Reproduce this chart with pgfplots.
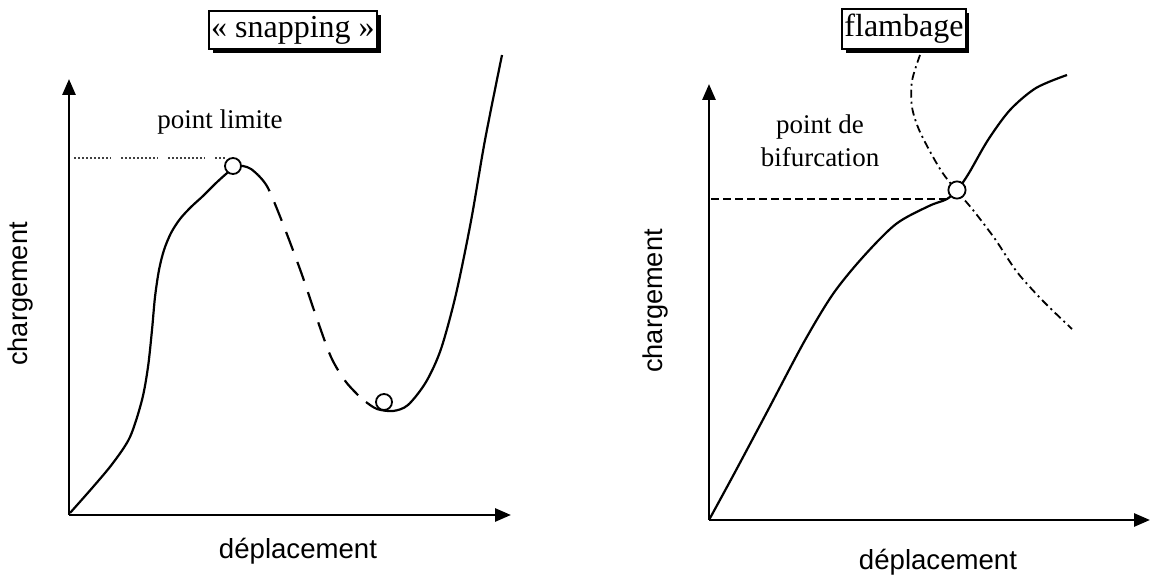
\documentclass[border=0pt]{standalone}
\usepackage{fontspec}
\setmainfont{Liberation Serif}
\newfontfamily\arialf{Liberation Sans}
\usepackage{pgfplots}
\pgfplotsset{compat=1.18}
\usetikzlibrary{arrows.meta,shadows}
\tikzset{titlebox/.style={draw, line width=1pt, fill=white, inner xsep=1pt, inner ysep=2.6pt,
      drop shadow={shadow xshift=1.9pt, shadow yshift=-1.9pt, fill=black, opacity=1},
      font=\fontsize{16}{18}\selectfont}}
\begin{document}
\begin{tikzpicture}
\begin{axis}[
  scale only axis, width=576pt, height=288pt,
  xmin=0, xmax=1152, ymin=0, ymax=576, y dir=reverse,
  hide axis, clip=false,
]
% ---------- left panel ----------
\addplot[black, line width=1.4pt, -{Triangle[length=8pt,width=6.5pt]}] coordinates {(69,515) (69,79)};
\addplot[black, line width=1.4pt, -{Triangle[length=8pt,width=6.5pt]}] coordinates {(69,515) (511,515)};
% dotted limit-load line
\addplot[black!75, line width=0.8pt, dash pattern=on 1pt off 1pt on 1pt off 1pt on 1pt off 1pt on 1pt off 1pt on 1pt off 1pt on 1pt off 1pt on 1pt off 1pt on 1pt off 1pt on 1pt off 1pt on 0.5pt off 5pt] coordinates {(74,158) (227,158)};
% solid rising branch
\addplot[black, line width=1.1pt, smooth] coordinates {
 (70,513) (93,487) (113,463) (130,437) (142,400) (148,367) (152,330) (155,297) (159,270)
 (164,250) (171,233) (180,219) (191,207) (203,196) (215,184) (226,174) (234,168) (243,166) (251,169) (258,175)};
% dashed unstable branch
\addplot[black, line width=1.1pt, smooth, dash pattern=on 10pt off 6pt] coordinates {
 (258,175) (268,188) (283,224) (301,272) (316,316) (331,357) (346,382) (364,401)};
% solid branch after snap
\addplot[black, line width=1.1pt, smooth] coordinates {
 (366,402) (377,409) (393,411) (408,405) (426,382) (441,349) (456,294) (471,221) (485,140) (502,55)};
\addplot[only marks, mark=*, mark size=4pt, mark options={fill=white, draw=black, line width=0.9pt}] coordinates {(233,166) (384,402)};
\node[titlebox] at (axis cs:293,30) {« snapping »};
\node[font=\fontsize{13.5}{16}\selectfont] at (axis cs:220,122) {point limite};
\node[rotate=90, font=\arialf\fontsize{13.6}{16}\selectfont] at (axis cs:20,294) {chargement};
\node[font=\arialf\fontsize{13.8}{16}\selectfont] at (axis cs:298,551) {déplacement};
% ---------- right panel ----------
\addplot[black, line width=1.4pt, -{Triangle[length=8pt,width=6.5pt]}] coordinates {(709,520) (709,84)};
\addplot[black, line width=1.4pt, -{Triangle[length=8pt,width=6.5pt]}] coordinates {(709,520) (1150,520)};
\addplot[black, line width=0.9pt, dash pattern=on 4pt off 2pt] coordinates {(711,199) (947,199)};
\addplot[black, line width=1.1pt, smooth] coordinates {
 (709,520) (734,474) (767,412) (804,342) (833,294) (863,257) (896,224) (929,206) (947,199) (958,189)
 (969,173) (988,140) (1010,110) (1036,88) (1067,75)};
\addplot[black, line width=0.9pt, smooth, dash pattern=on 4pt off 2pt on 1pt off 2pt] coordinates {
 (920,55) (912,81) (912,107) (920,132) (940,169) (956,190) (973,210) (995,239) (1017,272) (1043,301) (1072,329)};
\addplot[only marks, mark=*, mark size=4.3pt, mark options={fill=white, draw=black, line width=0.9pt}] coordinates {(957,190)};
\node[titlebox] at (axis cs:904,29) {flambage};
\node[align=center, font=\fontsize{13.5}{16.5}\selectfont] at (axis cs:820,141) {point de\\bifurcation};
\node[rotate=90, font=\arialf\fontsize{13.6}{16}\selectfont] at (axis cs:655,301) {chargement};
\node[font=\arialf\fontsize{13.8}{16}\selectfont] at (axis cs:938,562) {déplacement};
\end{axis}
\pgfresetboundingbox
\path[use as bounding box] (current axis.south west) rectangle (current axis.north east);
\end{tikzpicture}
\end{document}
